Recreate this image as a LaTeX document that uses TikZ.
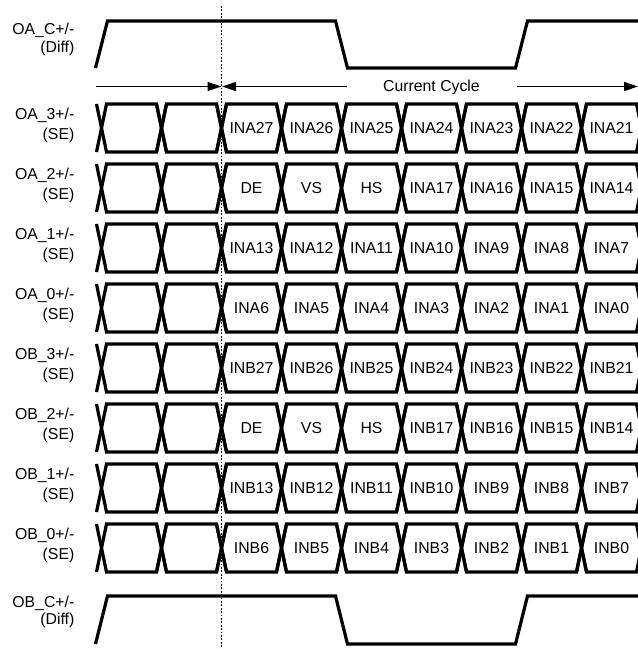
\documentclass[tikz,border=0pt]{standalone}
\usepackage{fontspec}
\setmainfont{Liberation Sans}
\usetikzlibrary{arrows.meta}
\begin{document}
\begin{tikzpicture}[x=1pt,y=-1pt,
  sig/.style={line width=3.2pt, line join=miter, line cap=butt},
  txt/.style={inner sep=0pt, font=\fontsize{15.8}{18}\selectfont},
  lbl/.style={txt, anchor=base east},
  arr/.style={line width=1.3pt, -{Triangle[length=14pt,width=9pt]}},
  guide/.style={line width=1pt, dash pattern=on 1.8pt off 1.6pt}
]
\useasboundingbox (0,0) rectangle (638,649);
\clip (0,0) rectangle (638,649);

% guide line
\coordinate (gtop) at (221.5,6);
\coordinate (gbot) at (221.5,649);
\draw[guide] (gtop) -- (gbot);

% clocks
\draw[sig] (95.5,68) -- (107.5,21) -- (335.5,21) -- (347.5,68) -- (515.5,68) -- (527.5,21) -- (642,21);
\node[lbl] (labCa) at (74.5,34.5) {OA\_C+/-};
\node[lbl] (labCb) at (74.5,52) {(Diff)};

\draw[sig] (95.5,644) -- (107.5,596) -- (335.5,596) -- (347.5,644) -- (515.5,644) -- (527.5,596) -- (642,596);
\node[lbl] (labDa) at (74.5,607) {OB\_C+/-};
\node[lbl] (labDb) at (74.5,624.5) {(Diff)};

% cycle arrows
\coordinate (aL) at (96,86.5);
\coordinate (aM) at (221.5,86.5);
\coordinate (aM2) at (222,86.5);
\coordinate (aR) at (638,86.5);
\node[txt, anchor=base] (cc) at (431.5,91.7) {Current Cycle};
\coordinate (cL) at (347,86.5);
\coordinate (cR) at (516.5,86.5);
\draw[arr] (aL) -- (aM);
\draw[arr] (cL) -- (aM2);
\draw[arr] (cR) -- (aR);

% data rows
\foreach \lab/\cells [count=\k from 0] in {
  OA\_3/{INA27,INA26,INA25,INA24,INA23,INA22,INA21},
  OA\_2/{DE,VS,HS,INA17,INA16,INA15,INA14},
  OA\_1/{INA13,INA12,INA11,INA10,INA9,INA8,INA7},
  OA\_0/{INA6,INA5,INA4,INA3,INA2,INA1,INA0},
  OB\_3/{INB27,INB26,INB25,INB24,INB23,INB22,INB21},
  OB\_2/{DE,VS,HS,INB17,INB16,INB15,INB14},
  OB\_1/{INB13,INB12,INB11,INB10,INB9,INB8,INB7},
  OB\_0/{INB6,INB5,INB4,INB3,INB2,INB1,INB0}}
{
  \pgfmathsetmacro\T{104+60*\k}
  \pgfmathsetmacro\B{\T+48}
  \pgfmathsetmacro\M{\T+24}
  \foreach \i in {0,...,8}{
    \pgfmathsetmacro\ca{101.5+60*\i}
    \pgfmathsetmacro\cb{\ca+60}
    \draw[sig] (\ca-5,\B) -- (\ca+5,\T) -- (\cb-5,\T) -- (\cb+5,\B);
    \draw[sig] (\ca-5,\T) -- (\ca+5,\B) -- (\cb-5,\B) -- (\cb+5,\T);
  }
  \foreach \t [count=\j] in \cells {
    \node[txt] (cell-\k-\j) at (191.5+60*\j,\M) {\t};
  }
  \node[lbl] (lab-\k-a) at (74.5,\T+15.5) {\lab+/-};
  \node[lbl] (lab-\k-b) at (74.5,\T+35) {(SE)};
}
\end{tikzpicture}
\end{document}
